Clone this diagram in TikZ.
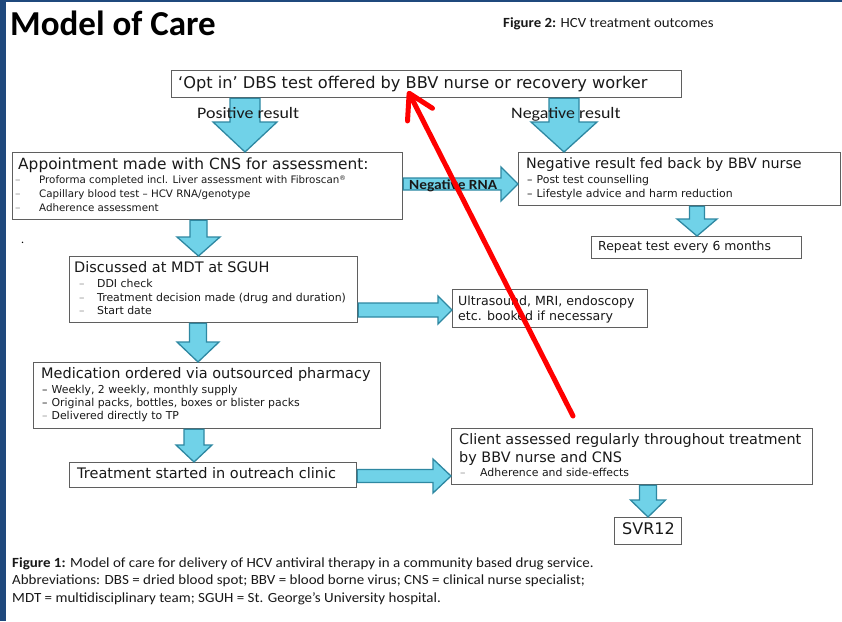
\documentclass[tikz,border=0pt]{standalone}
\usepackage{fontspec}
\setmainfont{Carlito}
\newfontfamily\boxfont{DejaVu Sans}
\usetikzlibrary{arrows.meta,calc}

\definecolor{slideblue}{RGB}{31,73,125}
\definecolor{arrowfill}{RGB}{112,210,232}
\definecolor{arrowline}{RGB}{46,136,162}
\definecolor{boxline}{RGB}{95,95,95}
\definecolor{dashgray}{RGB}{150,150,150}
\definecolor{txt}{RGB}{25,25,25}

\tikzset{
  box/.style={draw=boxline, line width=1.2pt, fill=white, inner sep=0pt, anchor=north west},
  btitle/.style={font=\boxfont\fontsize{14.5}{17}\selectfont, text=txt, anchor=base west, inner sep=0pt},
  bitem/.style={font=\boxfont\fontsize{10.9}{12}\selectfont, text=txt, anchor=base west, inner sep=0pt},
  bdash/.style={font=\boxfont\fontsize{10.9}{12}\selectfont, text=dashgray, anchor=base west, inner sep=0pt},
  calib/.style={font=\fontsize{14}{16}\selectfont, text=txt, anchor=base west, inner sep=0pt},
  alabel/.style={font=\fontsize{16}{18}\selectfont, text=txt, anchor=base west, inner sep=0pt},
  blockarrow/.style={fill=arrowfill, draw=arrowline, line width=1.3pt, line join=miter},
  redarrow/.style={draw=red, line width=5pt, line cap=round, line join=round,
     -{Straight Barb[length=24pt, width=28pt, line cap=round, line join=round]}},
}

\newcommand{\downblock}[6]{%
  \filldraw[blockarrow] let \p1=(#2.south), \p2=(#3.north) in
    (#1pt-#4pt,\y1) -- (#1pt+#4pt,\y1) -- (#1pt+#4pt,\y2+#6pt) -- (#1pt+#5pt,\y2+#6pt)
    -- (#1pt,\y2) -- (#1pt-#5pt,\y2+#6pt) -- (#1pt-#4pt,\y2+#6pt) -- cycle;}
\newcommand{\rightblock}[6]{%
  \filldraw[blockarrow] let \p1=(#2.east), \p2=(#3.west) in
    (\x1,-#1pt+#4pt) -- (\x2-#6pt,-#1pt+#4pt) -- (\x2-#6pt,-#1pt+#5pt) -- (\x2,-#1pt)
    -- (\x2-#6pt,-#1pt-#5pt) -- (\x2-#6pt,-#1pt-#4pt) -- (\x1,-#1pt-#4pt) -- cycle;}

\begin{document}
\begin{tikzpicture}[x=1pt, y=-1pt]
\useasboundingbox (0,0) rectangle (842,621);
\fill[white] (0,0) rectangle (842,621);
\fill[slideblue] (0,0) rectangle (6,621);
\fill[slideblue] (0,0) rectangle (842,1.5);

% title
\node[anchor=base west, inner sep=0pt, font=\bfseries\fontsize{35}{38}\selectfont] (title) at (10,35) {Model of Care};
\node[calib] (fig2) at (503,27) {\scalebox{1.06}[1]{\textbf{Figure 2:} HCV treatment outcomes}};

% boxes
\node[box, minimum width=510pt, minimum height=27pt] (b1) at (171,70) {};
\node[box, minimum width=390pt, minimum height=67pt] (b2) at (12,152) {};
\node[box, minimum width=288pt, minimum height=66pt] (b3) at (69,256) {};
\node[box, minimum width=322pt, minimum height=53pt] (b4) at (518,152) {};
\node[box, minimum width=347pt, minimum height=66pt] (b5) at (33,362) {};
\node[box, minimum width=287pt, minimum height=25pt] (b6) at (69,462) {};
\node[box, minimum width=361pt, minimum height=56pt] (b7) at (451,428) {};
\node[box, minimum width=195pt, minimum height=38pt] (b8) at (452,289) {};
\node[box, minimum width=210pt, minimum height=22pt] (b9) at (591,236) {};
\node[box, minimum width=67pt, minimum height=27pt] (b10) at (614,517) {};

% block arrows
\downblock{245}{b1}{b2}{15}{32}{30}
\downblock{564}{b1}{b4}{15}{33}{30}
\downblock{198.5}{b2}{b3}{8.5}{21.5}{19}
\downblock{198}{b3}{b5}{8.5}{21}{20}
\downblock{194}{b5}{b6}{10}{18}{17}
\downblock{697}{b4}{b9}{7.5}{20}{17}
\downblock{648}{b7}{b10}{8.5}{17.5}{17}
\rightblock{184}{b2}{b4}{6}{17}{17}
\rightblock{310}{b3}{b8}{7}{14}{14}
\rightblock{476}{b6}{b7}{6.5}{17}{18}

% arrow labels
\node[alabel] (pos) at (197,118) {\scalebox{1.12}[1]{Positive result}};
\node[alabel] (neg) at (511,118) {\scalebox{1.12}[1]{Negative result}};
\node[anchor=base west, inner sep=0pt, font=\bfseries\fontsize{14}{16}\selectfont, text=txt] (negrna) at (409,189) {\scalebox{1.1}[1]{Negative RNA}};

% box texts
\node[btitle, font=\boxfont\fontsize{16.2}{18}\selectfont] (t1) at (178,88) {‘Opt in’ DBS test offered by BBV nurse or recovery worker};

\node[btitle, font=\boxfont\fontsize{15.4}{18}\selectfont] (t2) at (18,169) {Appointment made with CNS for assessment:};
\node[bdash] (d21) at (15,183) {–};
\node[bitem, font=\boxfont\fontsize{10.3}{12}\selectfont] (t21) at (39,183) {Proforma completed incl. Liver assessment with Fibroscan\raisebox{2.5pt}{\fontsize{6.5}{7}\selectfont ®}};
\node[bdash] (d22) at (15,197) {–};
\node[bitem, font=\boxfont\fontsize{10.3}{12}\selectfont] (t22) at (39,197) {Capillary blood test – HCV RNA/genotype};
\node[bdash] (d23) at (15,211) {–};
\node[bitem, font=\boxfont\fontsize{10.3}{12}\selectfont] (t23) at (39,211) {Adherence assessment};

\node[anchor=base west, inner sep=0pt, font=\fontsize{12}{14}\selectfont] (dot) at (21,243) {.};

\node[btitle] (t3) at (74,272) {Discussed at MDT at SGUH};
\node[bdash] (d31) at (79,287) {–};
\node[bitem] (t31) at (97,287) {DDI check};
\node[bdash] (d32) at (79,301) {–};
\node[bitem] (t32) at (97,301) {Treatment decision made (drug and duration)};
\node[bdash] (d33) at (79,314) {–};
\node[bitem] (t33) at (97,314) {Start date};

\node[btitle, font=\boxfont\fontsize{14.3}{17}\selectfont] (t4) at (526,168) {Negative result fed back by BBV nurse};
\node[bitem] (t41) at (527,183) {–\hspace{4pt}Post test counselling};
\node[bitem] (t42) at (527,197) {–\hspace{4pt}Lifestyle advice and harm reduction};

\node[btitle, font=\boxfont\fontsize{12.4}{15}\selectfont] (t9) at (598,250) {Repeat test every 6 months};

\node[btitle, font=\boxfont\fontsize{12.6}{15}\selectfont] (t81) at (458,305) {Ultrasound, MRI, endoscopy};
\node[btitle, font=\boxfont\fontsize{12.6}{15}\selectfont] (t82) at (458,320) {etc. booked if necessary};

\node[btitle] (t5) at (41,378) {Medication ordered via outsourced pharmacy};
\node[bitem] (t51) at (42,393) {–\hspace{4pt}Weekly, 2 weekly, monthly supply};
\node[bitem] (t52) at (42,406) {–\hspace{4pt}Original packs, bottles, boxes or blister packs};
\node[bitem] (t53) at (42,419) {\textcolor{dashgray}{–}\hspace{4pt}Delivered directly to TP};

\node[btitle] (t6) at (77,478) {Treatment started in outreach clinic};

\node[btitle, font=\boxfont\fontsize{14.4}{17}\selectfont] (t71) at (459,444) {Client assessed regularly throughout treatment};
\node[btitle, font=\boxfont\fontsize{14.4}{17}\selectfont] (t72) at (459,462) {by BBV nurse and CNS};
\node[bdash] (d73) at (460,476) {–};
\node[bitem] (t73) at (480,476) {Adherence and side-effects};

\node[anchor=base west, inner sep=0pt, font=\boxfont\fontsize{16}{18}\selectfont, text=txt] (t10) at (622,534) {SVR12};

% caption
\node[calib] (c1) at (12,567) {\scalebox{1.07}[1]{\textbf{Figure 1:} Model of care for delivery of HCV antiviral therapy in a community based drug service.}};
\node[calib] (c2) at (12,584) {\scalebox{1.07}[1]{Abbreviations: DBS = dried blood spot; BBV = blood borne virus; CNS = clinical nurse specialist;}};
\node[calib] (c3) at (12,602) {\scalebox{1.07}[1]{MDT = multidisciplinary team; SGUH = St. George’s University hospital.}};

% red arrow
\coordinate (redstart) at (573,416);
\coordinate (redtip) at (408,91);
\draw[redarrow] (redstart) -- (redtip);
\end{tikzpicture}
\end{document}
